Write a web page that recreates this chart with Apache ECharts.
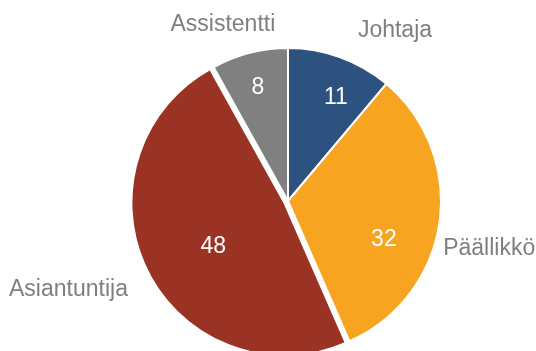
<!DOCTYPE html>
<html>
<head>
<meta charset="utf-8">
<script src="https://cdn.jsdelivr.net/npm/echarts@6/dist/echarts.min.js"></script>
<style>
  html, body { margin: 0; padding: 0; background: #fff; }
  #chart { width: 536px; height: 351px; }
</style>
</head>
<body>
<div id="chart"></div>
<script>
// Job role distribution
const categories = ['Johtaja', 'Päällikkö', 'Asiantuntija', 'Assistentti'];
const values = [11, 32, 48, 8];
const colors = ['#2E5280', '#F7A521', '#9B3325', '#808080'];

const center = [288, 201];
const radius = 153;

// small label nudges [dx, dy] per slice
const nameNudge = [[0, -3], [-30, 22], [12, 8], [41, -4]];
const valueNudge = [[11, -2], [-11, 23], [22, -2], [-3, -9]];

const font = 'Liberation Sans, Arial, sans-serif';

const pieData = categories.map((name, i) => ({
  name: name,
  value: values[i],
  selected: name === 'Asiantuntija',
  itemStyle: { color: colors[i] }
}));

const chart = echarts.init(document.getElementById('chart'), null, { renderer: 'canvas' });
chart.setOption({
  animation: false,
  series: [
    {
      // slices with category names outside
      type: 'pie',
      center: center,
      radius: radius,
      startAngle: 90,
      clockwise: true,
      selectedMode: 'single',
      selectedOffset: 4,
      itemStyle: { borderColor: '#fff', borderWidth: 2 },
      label: {
        show: true,
        position: 'outside',
        formatter: '{b}',
        color: '#7F7F7F',
        fontFamily: font,
        fontSize: 23,
        overflow: 'none'
      },
      labelLine: { show: false, length: 25, length2: 4 },
      labelLayout: p => ({ dx: nameNudge[p.dataIndex][0], dy: nameNudge[p.dataIndex][1] }),
      emphasis: { disabled: true },
      data: pieData
    },
    {
      // value labels inside the slices
      type: 'pie',
      center: center,
      radius: [57, radius],
      startAngle: 90,
      clockwise: true,
      silent: true,
      itemStyle: { color: 'transparent' },
      label: {
        show: true,
        position: 'inside',
        formatter: '{c}',
        color: '#fff',
        fontFamily: font,
        fontSize: 23
      },
      labelLine: { show: false },
      labelLayout: p => ({ dx: valueNudge[p.dataIndex][0], dy: valueNudge[p.dataIndex][1] }),
      emphasis: { disabled: true },
      data: categories.map((name, i) => ({ name: name, value: values[i] }))
    }
  ]
});
</script>
</body>
</html>
